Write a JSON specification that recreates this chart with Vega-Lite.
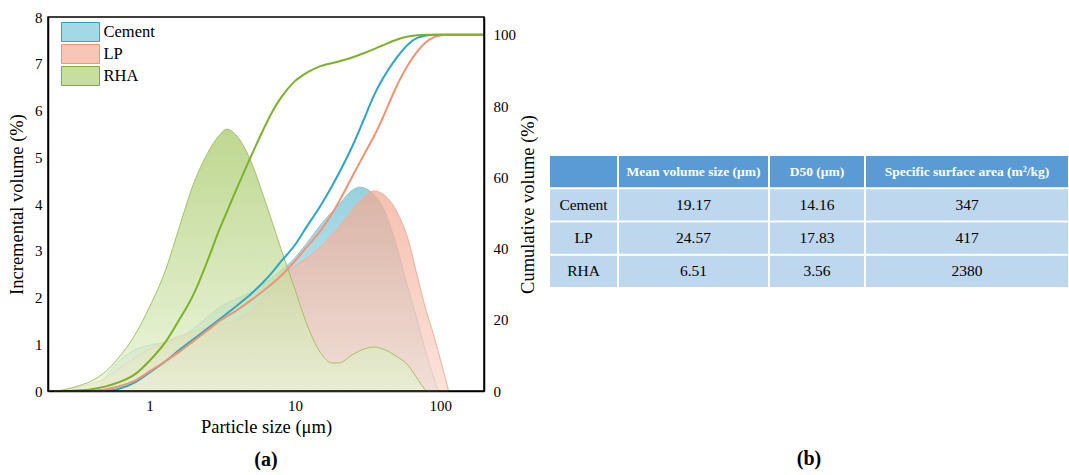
{
  "$schema": "https://vega.github.io/schema/vega-lite/v6.json",
  "background": "white",
  "padding": {"left": 7, "top": 10, "right": 0, "bottom": 0},
  "datasets": {
    "inc": [
      {"series":"Cement","size":0.4,"inc":0},{"series":"Cement","size":0.45,"inc":0.08},{"series":"Cement","size":0.5,"inc":0.3},{"series":"Cement","size":0.6,"inc":0.6},{"series":"Cement","size":0.8,"inc":0.88},{"series":"Cement","size":1,"inc":0.98},{"series":"Cement","size":1.3,"inc":1.04},{"series":"Cement","size":1.6,"inc":1.14},{"series":"Cement","size":2,"inc":1.33},{"series":"Cement","size":2.5,"inc":1.58},{"series":"Cement","size":3,"inc":1.78},{"series":"Cement","size":4,"inc":1.98},{"series":"Cement","size":5,"inc":2.12},{"series":"Cement","size":6,"inc":2.28},{"series":"Cement","size":7,"inc":2.43},{"series":"Cement","size":8,"inc":2.57},{"series":"Cement","size":10,"inc":2.85},{"series":"Cement","size":12,"inc":3.15},{"series":"Cement","size":15,"inc":3.55},{"series":"Cement","size":20,"inc":3.98},{"series":"Cement","size":25,"inc":4.3},{"series":"Cement","size":28,"inc":4.36},{"series":"Cement","size":32,"inc":4.3},{"series":"Cement","size":35,"inc":4.2},{"series":"Cement","size":40,"inc":3.95},{"series":"Cement","size":50,"inc":3.1},{"series":"Cement","size":60,"inc":2.2},{"series":"Cement","size":70,"inc":1.48},{"series":"Cement","size":80,"inc":0.8},{"series":"Cement","size":90,"inc":0.3},{"series":"Cement","size":97,"inc":0},
      {"series":"LP","size":0.25,"inc":0},{"series":"LP","size":0.3,"inc":0.06},{"series":"LP","size":0.4,"inc":0.16},{"series":"LP","size":0.5,"inc":0.27},{"series":"LP","size":0.6,"inc":0.46},{"series":"LP","size":0.8,"inc":0.72},{"series":"LP","size":1,"inc":0.9},{"series":"LP","size":1.3,"inc":1.06},{"series":"LP","size":1.6,"inc":1.17},{"series":"LP","size":2,"inc":1.27},{"series":"LP","size":2.5,"inc":1.36},{"series":"LP","size":3,"inc":1.42},{"series":"LP","size":4,"inc":1.52},{"series":"LP","size":5,"inc":1.72},{"series":"LP","size":6,"inc":1.98},{"series":"LP","size":7,"inc":2.22},{"series":"LP","size":8,"inc":2.42},{"series":"LP","size":10,"inc":2.67},{"series":"LP","size":12,"inc":2.84},{"series":"LP","size":15,"inc":3.08},{"series":"LP","size":20,"inc":3.5},{"series":"LP","size":25,"inc":3.88},{"series":"LP","size":30,"inc":4.16},{"series":"LP","size":35,"inc":4.28},{"series":"LP","size":40,"inc":4.22},{"series":"LP","size":50,"inc":3.85},{"series":"LP","size":60,"inc":3.25},{"series":"LP","size":70,"inc":2.42},{"series":"LP","size":80,"inc":1.72},{"series":"LP","size":90,"inc":1.2},{"series":"LP","size":100,"inc":0.68},{"series":"LP","size":110,"inc":0.2},{"series":"LP","size":114,"inc":0},
      {"series":"RHA","size":0.22,"inc":0},{"series":"RHA","size":0.25,"inc":0.02},{"series":"RHA","size":0.3,"inc":0.08},{"series":"RHA","size":0.4,"inc":0.22},{"series":"RHA","size":0.5,"inc":0.42},{"series":"RHA","size":0.6,"inc":0.68},{"series":"RHA","size":0.8,"inc":1.22},{"series":"RHA","size":1,"inc":1.8},{"series":"RHA","size":1.3,"inc":2.62},{"series":"RHA","size":1.6,"inc":3.5},{"series":"RHA","size":2,"inc":4.42},{"series":"RHA","size":2.5,"inc":5.08},{"series":"RHA","size":3,"inc":5.46},{"series":"RHA","size":3.4,"inc":5.6},{"series":"RHA","size":4,"inc":5.45},{"series":"RHA","size":5,"inc":4.9},{"series":"RHA","size":6,"inc":4.22},{"series":"RHA","size":7,"inc":3.6},{"series":"RHA","size":8,"inc":3.05},{"series":"RHA","size":10,"inc":2.18},{"series":"RHA","size":12,"inc":1.45},{"series":"RHA","size":15,"inc":0.82},{"series":"RHA","size":18,"inc":0.6},{"series":"RHA","size":20,"inc":0.6},{"series":"RHA","size":25,"inc":0.78},{"series":"RHA","size":30,"inc":0.9},{"series":"RHA","size":35,"inc":0.94},{"series":"RHA","size":40,"inc":0.9},{"series":"RHA","size":50,"inc":0.74},{"series":"RHA","size":60,"inc":0.55},{"series":"RHA","size":70,"inc":0.25},{"series":"RHA","size":78,"inc":0.04},{"series":"RHA","size":80,"inc":0}
    ],
    "cum": [
      {"series":"Cement","size":0.5,"cum":0},{"series":"Cement","size":0.6,"cum":0.5},{"series":"Cement","size":0.8,"cum":2.5},{"series":"Cement","size":1,"cum":5.2},{"series":"Cement","size":1.3,"cum":8.5},{"series":"Cement","size":1.6,"cum":11.5},{"series":"Cement","size":2,"cum":14.5},{"series":"Cement","size":2.5,"cum":17.5},{"series":"Cement","size":3,"cum":20},{"series":"Cement","size":4,"cum":24},{"series":"Cement","size":5,"cum":27.3},{"series":"Cement","size":6,"cum":30.4},{"series":"Cement","size":7,"cum":33.4},{"series":"Cement","size":8,"cum":36.3},{"series":"Cement","size":10,"cum":41},{"series":"Cement","size":12,"cum":46},{"series":"Cement","size":15,"cum":52},{"series":"Cement","size":20,"cum":61},{"series":"Cement","size":25,"cum":69},{"series":"Cement","size":30,"cum":76.5},{"series":"Cement","size":35,"cum":83},{"series":"Cement","size":40,"cum":87.5},{"series":"Cement","size":50,"cum":93.5},{"series":"Cement","size":60,"cum":97.3},{"series":"Cement","size":70,"cum":99.2},{"series":"Cement","size":80,"cum":99.8},{"series":"Cement","size":90,"cum":100},{"series":"Cement","size":200,"cum":100},
      {"series":"LP","size":0.4,"cum":0},{"series":"LP","size":0.5,"cum":0.5},{"series":"LP","size":0.6,"cum":1.2},{"series":"LP","size":0.8,"cum":3},{"series":"LP","size":1,"cum":5.5},{"series":"LP","size":1.3,"cum":8.5},{"series":"LP","size":1.6,"cum":11},{"series":"LP","size":2,"cum":14},{"series":"LP","size":2.5,"cum":17},{"series":"LP","size":3,"cum":19.5},{"series":"LP","size":4,"cum":22.7},{"series":"LP","size":5,"cum":25.5},{"series":"LP","size":6,"cum":28},{"series":"LP","size":7,"cum":30.2},{"series":"LP","size":8,"cum":32.3},{"series":"LP","size":10,"cum":36.5},{"series":"LP","size":12,"cum":40.3},{"series":"LP","size":15,"cum":45},{"series":"LP","size":20,"cum":53},{"series":"LP","size":25,"cum":60.5},{"series":"LP","size":30,"cum":66.5},{"series":"LP","size":35,"cum":71.5},{"series":"LP","size":40,"cum":76.5},{"series":"LP","size":50,"cum":85.5},{"series":"LP","size":60,"cum":91.5},{"series":"LP","size":70,"cum":95.5},{"series":"LP","size":80,"cum":98},{"series":"LP","size":90,"cum":99.3},{"series":"LP","size":100,"cum":99.8},{"series":"LP","size":110,"cum":100},{"series":"LP","size":200,"cum":100},
      {"series":"RHA","size":0.25,"cum":0},{"series":"RHA","size":0.3,"cum":0.1},{"series":"RHA","size":0.4,"cum":0.5},{"series":"RHA","size":0.5,"cum":1.3},{"series":"RHA","size":0.6,"cum":2.3},{"series":"RHA","size":0.8,"cum":4.8},{"series":"RHA","size":1,"cum":8.5},{"series":"RHA","size":1.3,"cum":14},{"series":"RHA","size":1.6,"cum":20},{"series":"RHA","size":2,"cum":27},{"series":"RHA","size":2.5,"cum":36.5},{"series":"RHA","size":3,"cum":45},{"series":"RHA","size":3.5,"cum":51.5},{"series":"RHA","size":4,"cum":57},{"series":"RHA","size":5,"cum":66},{"series":"RHA","size":6,"cum":73},{"series":"RHA","size":7,"cum":78.5},{"series":"RHA","size":8,"cum":82.3},{"series":"RHA","size":10,"cum":87},{"series":"RHA","size":12,"cum":89.3},{"series":"RHA","size":15,"cum":91.2},{"series":"RHA","size":20,"cum":92.5},{"series":"RHA","size":25,"cum":93.7},{"series":"RHA","size":30,"cum":94.9},{"series":"RHA","size":35,"cum":96},{"series":"RHA","size":40,"cum":97},{"series":"RHA","size":50,"cum":98.6},{"series":"RHA","size":60,"cum":99.5},{"series":"RHA","size":70,"cum":99.9},{"series":"RHA","size":80,"cum":100},{"series":"RHA","size":200,"cum":100}
    ],
    "table": [
      {"col":"c0","row":"head","label":""},
      {"col":"c1","row":"head","label":"Mean volume size (μm)"},
      {"col":"c2","row":"head","label":"D50 (μm)"},
      {"col":"c3","row":"head","label":"Specific surface area (m²/kg)"},
      {"col":"c0","row":"Cement","label":"Cement"},
      {"col":"c1","row":"Cement","label":"19.17"},
      {"col":"c2","row":"Cement","label":"14.16"},
      {"col":"c3","row":"Cement","label":"347"},
      {"col":"c0","row":"LP","label":"LP"},
      {"col":"c1","row":"LP","label":"24.57"},
      {"col":"c2","row":"LP","label":"17.83"},
      {"col":"c3","row":"LP","label":"417"},
      {"col":"c0","row":"RHA","label":"RHA"},
      {"col":"c1","row":"RHA","label":"6.51"},
      {"col":"c2","row":"RHA","label":"3.56"},
      {"col":"c3","row":"RHA","label":"2380"}
    ]
  },
  "spacing": 13,
  "hconcat": [
    {
      "title": {"text": "(a)", "orient": "bottom", "offset": 14},
      "width": 436,
      "height": 374,
      "layer": [
        {
          "data": {"name": "inc"},
          "encoding": {
            "x": {
              "field": "size", "type": "quantitative", "title": "Particle size (μm)",
              "scale": {"type": "log", "domain": [0.2, 200], "nice": false},
              "axis": {
                "values": [0.3,0.4,0.5,0.6,0.7,0.8,0.9,1,2,3,4,5,6,7,8,9,10,20,30,40,50,60,70,80,90,100],
                "format": "~g",
                "labelExpr": "datum.value == 1 || datum.value == 10 || datum.value == 100 ? datum.label : ''",
                "tickSize": 0,
                "labelPadding": 7,
                "titlePadding": 4,
                "encode": {
                  "ticks": {"update": {"y2": {"signal": "datum.value == 1 || datum.value == 10 || datum.value == 100 ? -7 : -4"}, "stroke": {"value": "#000000"}, "strokeWidth": {"value": 1.2}}}
                }
              }
            },
            "y": {
              "field": "inc", "type": "quantitative", "stack": null, "title": "Incremental volume (%)",
              "scale": {"domain": [0, 8], "nice": false},
              "axis": {
                "values": [0,0.5,1,1.5,2,2.5,3,3.5,4,4.5,5,5.5,6,6.5,7,7.5,8],
                "format": "~g",
                "labelExpr": "datum.value % 1 == 0 ? datum.label : ''",
                "tickSize": 0,
                "labelPadding": 6,
                "titlePadding": 8,
                "encode": {
                  "ticks": {"update": {"x2": {"signal": "datum.value % 1 == 0 ? 7 : 4"}, "stroke": {"value": "#000000"}, "strokeWidth": {"value": 1.2}}}
                }
              }
            }
          },
          "layer": [
            {
              "mark": {"type": "area", "interpolate": "monotone", "opacity": 0},
              "encoding": {
                "color": {
                  "field": "series", "type": "nominal",
                  "scale": {"domain": ["Cement", "LP", "RHA"], "range": ["#a3d8e4", "#f8c6b6", "#c6de9e"]},
                  "legend": {
                    "title": null,
                    "orient": "none",
                    "legendX": 22.5,
                    "legendY": 5,
                    "padding": 0,
                    "symbolType": "M-2,-1H2V1H-2Z",
                    "symbolSize": 361,
                    "symbolStrokeColor": "#8a9a98",
                    "symbolStrokeWidth": 1,
                    "symbolOpacity": 1,
                    "labelFontSize": 16.5,
                    "labelOffset": 13,
                    "labelColor": "black",
                    "rowPadding": -2.5,
                    "encode": {
                      "symbols": {
                        "update": {
                          "fill": {"signal": "datum.value == 'Cement' ? {gradient: 'linear', id: 'lgC', x1: 0, y1: 0, x2: 0, y2: 1, stops: [{offset: 0, color: '#8fcedd'}, {offset: 1, color: '#d2edf3'}]} : datum.value == 'LP' ? {gradient: 'linear', id: 'lgL', x1: 0, y1: 0, x2: 0, y2: 1, stops: [{offset: 0, color: '#f6b9a5'}, {offset: 1, color: '#fbdcd1'}]} : {gradient: 'linear', id: 'lgR', x1: 0, y1: 0, x2: 0, y2: 1, stops: [{offset: 0, color: '#b2d27c'}, {offset: 1, color: '#e7f2d4'}]}"}
                        }
                      }
                    }
                  }
                }
              }
            },
            {
              "transform": [{"filter": "datum.series === 'Cement'"}],
              "mark": {"type": "area", "interpolate": "monotone", "fillOpacity": 0.72, "strokeWidth": 1, "stroke": "#86c4d3",
                "fill": {"gradient": "linear", "x1": 0, "y1": 0, "x2": 0, "y2": 1, "stops": [{"offset": 0, "color": "#6fc0d2"}, {"offset": 1, "color": "#cfeaf1"}]}}
            },
            {
              "transform": [{"filter": "datum.series === 'LP'"}],
              "mark": {"type": "area", "interpolate": "monotone", "fillOpacity": 0.72, "strokeWidth": 1, "stroke": "#f2ae99",
                "fill": {"gradient": "linear", "x1": 0, "y1": 0, "x2": 0, "y2": 1, "stops": [{"offset": 0, "color": "#f3a890"}, {"offset": 1, "color": "#fad8cc"}]}}
            },
            {
              "transform": [{"filter": "datum.series === 'RHA'"}],
              "mark": {"type": "area", "interpolate": "monotone", "fillOpacity": 0.72, "strokeWidth": 1, "stroke": "#a3c263",
                "fill": {"gradient": "linear", "x1": 0, "y1": 0, "x2": 0, "y2": 1, "stops": [{"offset": 0, "color": "#a5c865"}, {"offset": 1, "color": "#e6f2d2"}]}}
            }
          ]
        },
        {
          "data": {"name": "cum"},
          "mark": {"type": "line", "interpolate": "monotone", "strokeWidth": 2},
          "encoding": {
            "x": {"field": "size", "type": "quantitative", "title": "Particle size (μm)"},
            "y": {
              "field": "cum", "type": "quantitative", "title": "Cumulative volume (%)",
              "scale": {"domain": [0, 105], "nice": false},
              "axis": {
                "orient": "right",
                "values": [0,10,20,30,40,50,60,70,80,90,100],
                "labelExpr": "datum.value % 20 == 0 ? datum.label : ''",
                "tickSize": 0,
                "labelPadding": 9,
                "titleAngle": 270,
                "titleBaseline": "top",
                "titlePadding": 3,
                "encode": {
                  "ticks": {"update": {"x2": {"signal": "datum.value % 20 == 0 ? -7 : -4"}, "stroke": {"value": "#000000"}, "strokeWidth": {"value": 1.2}}}
                }
              }
            },
            "stroke": {
              "field": "series", "type": "nominal",
              "scale": {"domain": ["Cement", "LP", "RHA"], "range": ["#2ba8c3", "#f39373", "#7bb22a"]},
              "legend": null
            }
          }
        },
        {
          "data": {"values": [{"frame": "plot"}]},
          "mark": {"type": "rect", "filled": false, "color": "#000000", "strokeWidth": 1.5},
          "encoding": {}
        }
      ],
      "resolve": {"scale": {"y": "independent"}}
    },
    {
      "title": {"text": "(b)", "orient": "bottom", "offset": 58, "anchor": "middle"},
      "spacing": 2,
      "hconcat": [
        {
          "width": 67, "height": 374,
          "data": {"name": "table"},
          "transform": [{"filter": "datum.col === 'c0'"}],
          "encoding": {"y": {"field": "row", "type": "nominal", "scale": {"domain": ["head","Cement","LP","RHA"], "range": [139, 270], "paddingInner": 0.065, "paddingOuter": 0}, "axis": null}},
          "layer": [
            {"mark": {"type": "rect"}, "encoding": {"color": {"condition": {"test": "datum.row === 'head'", "value": "#5B9BD5"}, "value": "#BDD7EE"}}},
            {"transform": [{"filter": "datum.row === 'head'"}], "mark": {"type": "text", "color": "white", "fontWeight": "bold", "fontSize": 13.5}, "encoding": {"text": {"field": "label"}}},
            {"transform": [{"filter": "datum.row !== 'head'"}], "mark": {"type": "text", "color": "black", "fontSize": 15.5}, "encoding": {"text": {"field": "label"}}}
          ]
        },
        {
          "width": 149, "height": 374,
          "data": {"name": "table"},
          "transform": [{"filter": "datum.col === 'c1'"}],
          "encoding": {"y": {"field": "row", "type": "nominal", "scale": {"domain": ["head","Cement","LP","RHA"], "range": [139, 270], "paddingInner": 0.065, "paddingOuter": 0}, "axis": null}},
          "layer": [
            {"mark": {"type": "rect"}, "encoding": {"color": {"condition": {"test": "datum.row === 'head'", "value": "#5B9BD5"}, "value": "#BDD7EE"}}},
            {"transform": [{"filter": "datum.row === 'head'"}], "mark": {"type": "text", "color": "white", "fontWeight": "bold", "fontSize": 13.5}, "encoding": {"text": {"field": "label"}}},
            {"transform": [{"filter": "datum.row !== 'head'"}], "mark": {"type": "text", "color": "black", "fontSize": 15.5}, "encoding": {"text": {"field": "label"}}}
          ]
        },
        {
          "width": 94, "height": 374,
          "data": {"name": "table"},
          "transform": [{"filter": "datum.col === 'c2'"}],
          "encoding": {"y": {"field": "row", "type": "nominal", "scale": {"domain": ["head","Cement","LP","RHA"], "range": [139, 270], "paddingInner": 0.065, "paddingOuter": 0}, "axis": null}},
          "layer": [
            {"mark": {"type": "rect"}, "encoding": {"color": {"condition": {"test": "datum.row === 'head'", "value": "#5B9BD5"}, "value": "#BDD7EE"}}},
            {"transform": [{"filter": "datum.row === 'head'"}], "mark": {"type": "text", "color": "white", "fontWeight": "bold", "fontSize": 13.5}, "encoding": {"text": {"field": "label"}}},
            {"transform": [{"filter": "datum.row !== 'head'"}], "mark": {"type": "text", "color": "black", "fontSize": 15.5}, "encoding": {"text": {"field": "label"}}}
          ]
        },
        {
          "width": 202, "height": 374,
          "data": {"name": "table"},
          "transform": [{"filter": "datum.col === 'c3'"}],
          "encoding": {"y": {"field": "row", "type": "nominal", "scale": {"domain": ["head","Cement","LP","RHA"], "range": [139, 270], "paddingInner": 0.065, "paddingOuter": 0}, "axis": null}},
          "layer": [
            {"mark": {"type": "rect"}, "encoding": {"color": {"condition": {"test": "datum.row === 'head'", "value": "#5B9BD5"}, "value": "#BDD7EE"}}},
            {"transform": [{"filter": "datum.row === 'head'"}], "mark": {"type": "text", "color": "white", "fontWeight": "bold", "fontSize": 13.5}, "encoding": {"text": {"field": "label"}}},
            {"transform": [{"filter": "datum.row !== 'head'"}], "mark": {"type": "text", "color": "black", "fontSize": 15.5}, "encoding": {"text": {"field": "label"}}}
          ]
        }
      ]
    }
  ],
  "config": {
    "font": "Liberation Serif",
    "view": {"stroke": null},
    "title": {"font": "Liberation Serif", "fontSize": 20, "fontWeight": "bold", "color": "black"},
    "axis": {
      "labelFont": "Liberation Serif",
      "titleFont": "Liberation Serif",
      "labelFontSize": 15,
      "titleFontSize": 18.5,
      "titleFontWeight": "normal",
      "labelColor": "black",
      "titleColor": "black",
      "domainColor": "#000000",
      "domainWidth": 1.5,
      "tickColor": "#000000",
      "tickWidth": 1.2,
      "grid": false
    },
    "legend": {"labelFont": "Liberation Serif"}
  }
}
